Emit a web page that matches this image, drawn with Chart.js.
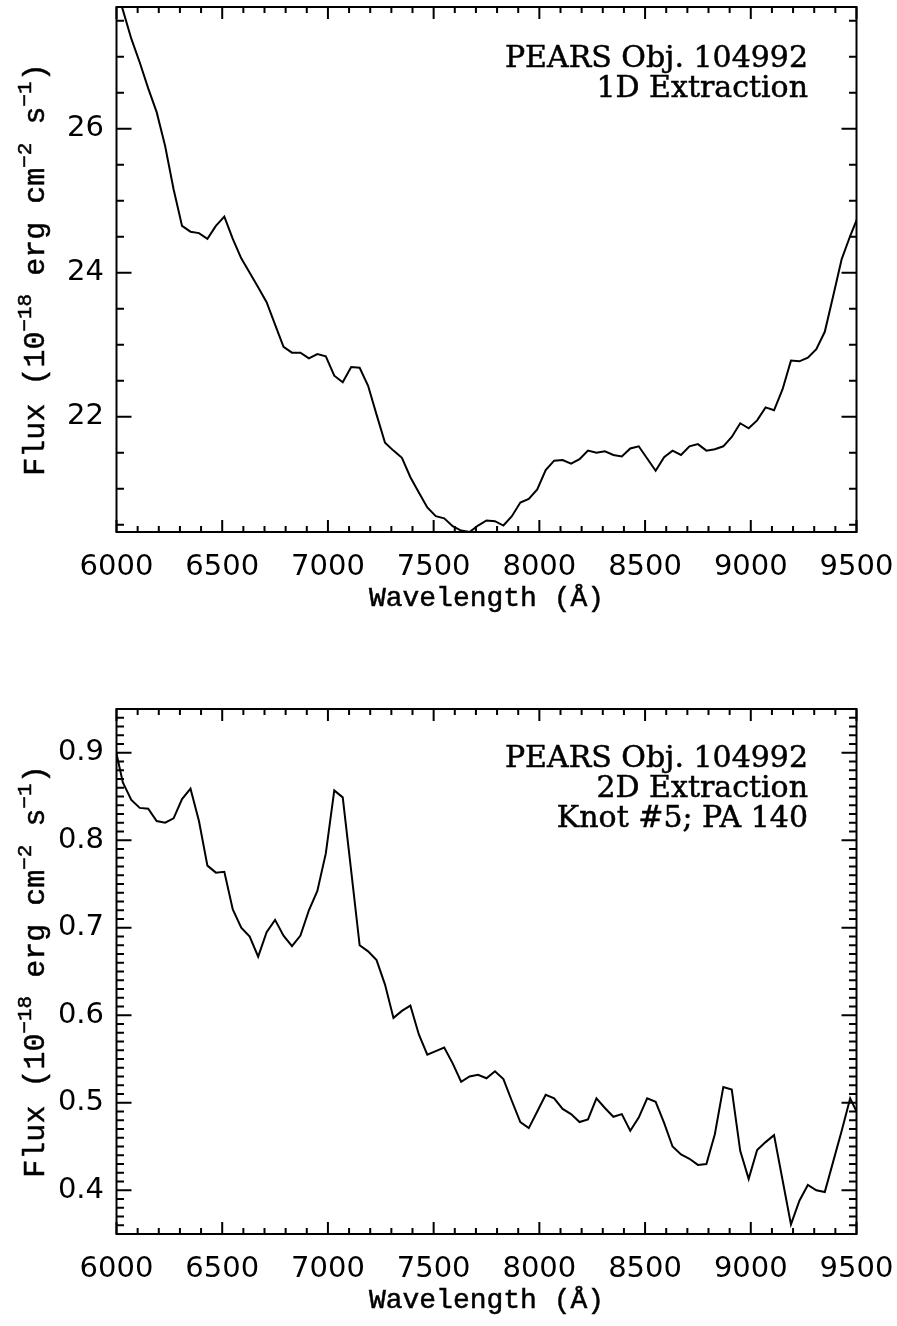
<!DOCTYPE html>
<html>
<head>
<meta charset="utf-8">
<title>PEARS Obj. 104992</title>
<script src="https://cdn.jsdelivr.net/npm/chart.js@4.4.0/dist/chart.umd.min.js"></script>
<style>
  html, body { margin: 0; padding: 0; background: #fff; overflow: hidden; }
  canvas { position: absolute; left: 0; }
</style>
</head>
<body>
<canvas id="panel1d" width="897" height="702" style="top:0px"></canvas>
<canvas id="panel2d" width="897" height="624" style="top:702px"></canvas>
<script>
// wavelength grid (Angstrom)
const wavelength = [
  5990, 6030, 6070, 6110, 6150, 6190, 6230, 6270, 6310, 6350,
  6390, 6430, 6470, 6510, 6550, 6590, 6630, 6670, 6710, 6750,
  6790, 6830, 6870, 6910, 6950, 6990, 7030, 7070, 7110, 7150,
  7190, 7230, 7270, 7310, 7350, 7390, 7430, 7470, 7510, 7550,
  7590, 7630, 7670, 7710, 7750, 7790, 7830, 7870, 7910, 7950,
  7990, 8030, 8070, 8110, 8150, 8190, 8230, 8270, 8310, 8350,
  8390, 8430, 8470, 8510, 8550, 8590, 8630, 8670, 8710, 8750,
  8790, 8830, 8870, 8910, 8950, 8990, 9030, 9070, 9110, 9150,
  9190, 9230, 9270, 9310, 9350, 9390, 9430, 9470, 9510
];

// 1D extraction flux (1e-18 erg cm^-2 s^-1)
const flux1D = [
  28.05, 27.65, 27.25, 26.92, 26.56, 26.23, 25.76, 25.16, 24.65, 24.57,
  24.55, 24.47, 24.65, 24.78, 24.47, 24.20, 24.00, 23.80, 23.59, 23.28,
  22.97, 22.89, 22.89, 22.81, 22.87, 22.84, 22.57, 22.48, 22.69, 22.68,
  22.43, 22.03, 21.64, 21.53, 21.43, 21.16, 20.95, 20.74, 20.62, 20.59,
  20.48, 20.42, 20.40, 20.49, 20.56, 20.55, 20.49, 20.62, 20.81, 20.86,
  20.99, 21.26, 21.39, 21.40, 21.35, 21.41, 21.53, 21.50, 21.52, 21.47,
  21.45, 21.56, 21.59, 21.42, 21.25, 21.44, 21.53, 21.47, 21.59, 21.62,
  21.53, 21.55, 21.59, 21.72, 21.91, 21.84, 21.95, 22.13, 22.09, 22.38,
  22.78, 22.77, 22.82, 22.94, 23.18, 23.68, 24.19, 24.51, 24.80
];

// 2D extraction flux, knot #5
const flux2D = [
  0.910, 0.866, 0.846, 0.837, 0.836, 0.822, 0.820, 0.825, 0.847, 0.859,
  0.822, 0.771, 0.763, 0.764, 0.721, 0.700, 0.690, 0.667, 0.695, 0.709,
  0.691, 0.679, 0.691, 0.720, 0.742, 0.785, 0.857, 0.849, 0.765, 0.680,
  0.673, 0.663, 0.635, 0.597, 0.605, 0.611, 0.578, 0.555, 0.559, 0.563,
  0.545, 0.524, 0.530, 0.532, 0.528, 0.536, 0.527, 0.502, 0.478, 0.471,
  0.490, 0.509, 0.505, 0.493, 0.487, 0.478, 0.481, 0.505, 0.494, 0.484,
  0.487, 0.468, 0.483, 0.505, 0.501, 0.477, 0.450, 0.441, 0.436, 0.429,
  0.430, 0.464, 0.518, 0.515, 0.445, 0.413, 0.446, 0.455, 0.463, 0.412,
  0.361, 0.388, 0.406, 0.400, 0.398, 0.433, 0.468, 0.505, 0.485
];

const xTicks = [6000, 6500, 7000, 7500, 8000, 8500, 9000, 9500];
const yTicks1D = [22, 24, 26];
const yTicks2D = [0.4, 0.5, 0.6, 0.7, 0.8, 0.9];
const notes1D = ['PEARS Obj. 104992', '1D Extraction'];
const notes2D = ['PEARS Obj. 104992', '2D Extraction', 'Knot #5; PA 140'];

const AREA_BOTTOM = 532;

// fill plus a thin stroke, the vector fonts in the original are a bit heavier
function heavyText(ctx, t, x, y, w) {
  ctx.fillText(t, x, y);
  ctx.lineWidth = w;
  ctx.strokeText(t, x, y);
}

// box, inward ticks, labels and notes (IDL style)
const framePlugin = {
  id: 'frame',
  afterDraw(chart, args, opts) {
    const ctx = chart.ctx;
    const a = chart.chartArea;
    const x = chart.scales.x, y = chart.scales.y;
    ctx.save();
    ctx.strokeStyle = '#000';
    ctx.fillStyle = '#000';
    ctx.lineWidth = 2;
    ctx.strokeRect(a.left, a.top, a.right - a.left, a.bottom - a.top);

    ctx.beginPath();
    for (let v = 6000; v <= 9500; v += 100) {
      const px = x.getPixelForValue(v);
      const len = v % 500 === 0 ? 12 : 6;
      ctx.moveTo(px, a.bottom); ctx.lineTo(px, a.bottom - len);
      ctx.moveTo(px, a.top); ctx.lineTo(px, a.top + len);
    }
    const k0 = Math.ceil(y.min / opts.minor - 1e-6);
    const k1 = Math.floor(y.max / opts.minor + 1e-6);
    for (let k = k0; k <= k1; k++) {
      const py = y.getPixelForValue(k * opts.minor);
      const len = k % opts.per === 0 ? 15 : 7.5;
      ctx.moveTo(a.left, py); ctx.lineTo(a.left + len, py);
      ctx.moveTo(a.right, py); ctx.lineTo(a.right - len, py);
    }
    ctx.stroke();

    // notes in the upper right
    ctx.font = '30px "DejaVu Serif"';
    ctx.textAlign = 'right';
    ctx.textBaseline = 'alphabetic';
    opts.notes.forEach((t, i) => heavyText(ctx, t, 808, opts.noteY + i * 30, 0.5));

    // x title
    ctx.font = '28px "Liberation Mono"';
    ctx.textAlign = 'center';
    heavyText(ctx, 'Wavelength (\u00C5)', (a.left + a.right) / 2, a.bottom + 74, 0.5);

    // y title with superscripts
    const parts = [['Flux (10', 0], ['\u221218', 1], [' erg cm', 0], ['\u22122', 1], [' s', 0], ['\u22121', 1], [')', 0]];
    const big = '30px "Liberation Mono"', small = '21px "Liberation Mono"';
    let total = 0;
    parts.forEach(p => { ctx.font = p[1] ? small : big; total += ctx.measureText(p[0]).width; });
    ctx.translate(44, (a.top + a.bottom) / 2);
    ctx.rotate(-Math.PI / 2);
    ctx.textAlign = 'left';
    let cx = -total / 2;
    parts.forEach(p => {
      ctx.font = p[1] ? small : big;
      heavyText(ctx, p[0], cx, p[1] ? -13 : 0, 0.5);
      cx += ctx.measureText(p[0]).width;
    });
    ctx.restore();
  }
};

function makePanel(id, flux, yMin, yMax, yTicks, frameOpts) {
  return new Chart(document.getElementById(id), {
    type: 'line',
    data: {
      datasets: [{
        data: wavelength.map((w, i) => ({ x: w, y: flux[i] })),
        borderColor: '#000',
        borderWidth: 2,
        pointRadius: 0,
        tension: 0,
        fill: false
      }]
    },
    options: {
      responsive: false,
      devicePixelRatio: 1,
      animation: false,
      events: [],
      layout: { padding: { top: 7, right: 40.5, left: 0, bottom: 0 } },
      plugins: {
        legend: { display: false },
        tooltip: { enabled: false },
        frame: frameOpts
      },
      scales: {
        x: {
          type: 'linear',
          min: 6000,
          max: 9500,
          grid: { display: false, drawTicks: false },
          border: { display: false },
          ticks: {
            color: '#000',
            font: { family: 'DejaVu Sans', size: 29 },
            padding: 18,
            maxRotation: 0,
            autoSkip: false,
            callback: v => String(v)
          },
          afterBuildTicks: s => { s.ticks = xTicks.map(v => ({ value: v })); },
          afterFit: s => { s.height = s.chart.height - AREA_BOTTOM; s.paddingLeft = 0; s.paddingRight = 0; }
        },
        y: {
          type: 'linear',
          min: yMin,
          max: yMax,
          grid: { display: false, drawTicks: false },
          border: { display: false },
          ticks: {
            color: '#000',
            font: { family: 'DejaVu Sans', size: 29 },
            padding: 12.5,
            autoSkip: false,
            callback: v => String(v)
          },
          afterBuildTicks: s => { s.ticks = yTicks.map(v => ({ value: v })); },
          afterFit: s => { s.width = 116.5; s.paddingTop = 0; s.paddingBottom = 0; }
        }
      }
    },
    plugins: [framePlugin]
  });
}

makePanel('panel1d', flux1D, 20.40, 27.69, yTicks1D,
  { minor: 0.5, per: 4, notes: notes1D, noteY: 67 });
makePanel('panel2d', flux2D, 0.35, 0.95, yTicks2D,
  { minor: 0.01, per: 10, notes: notes2D, noteY: 65 });
</script>
</body>
</html>
